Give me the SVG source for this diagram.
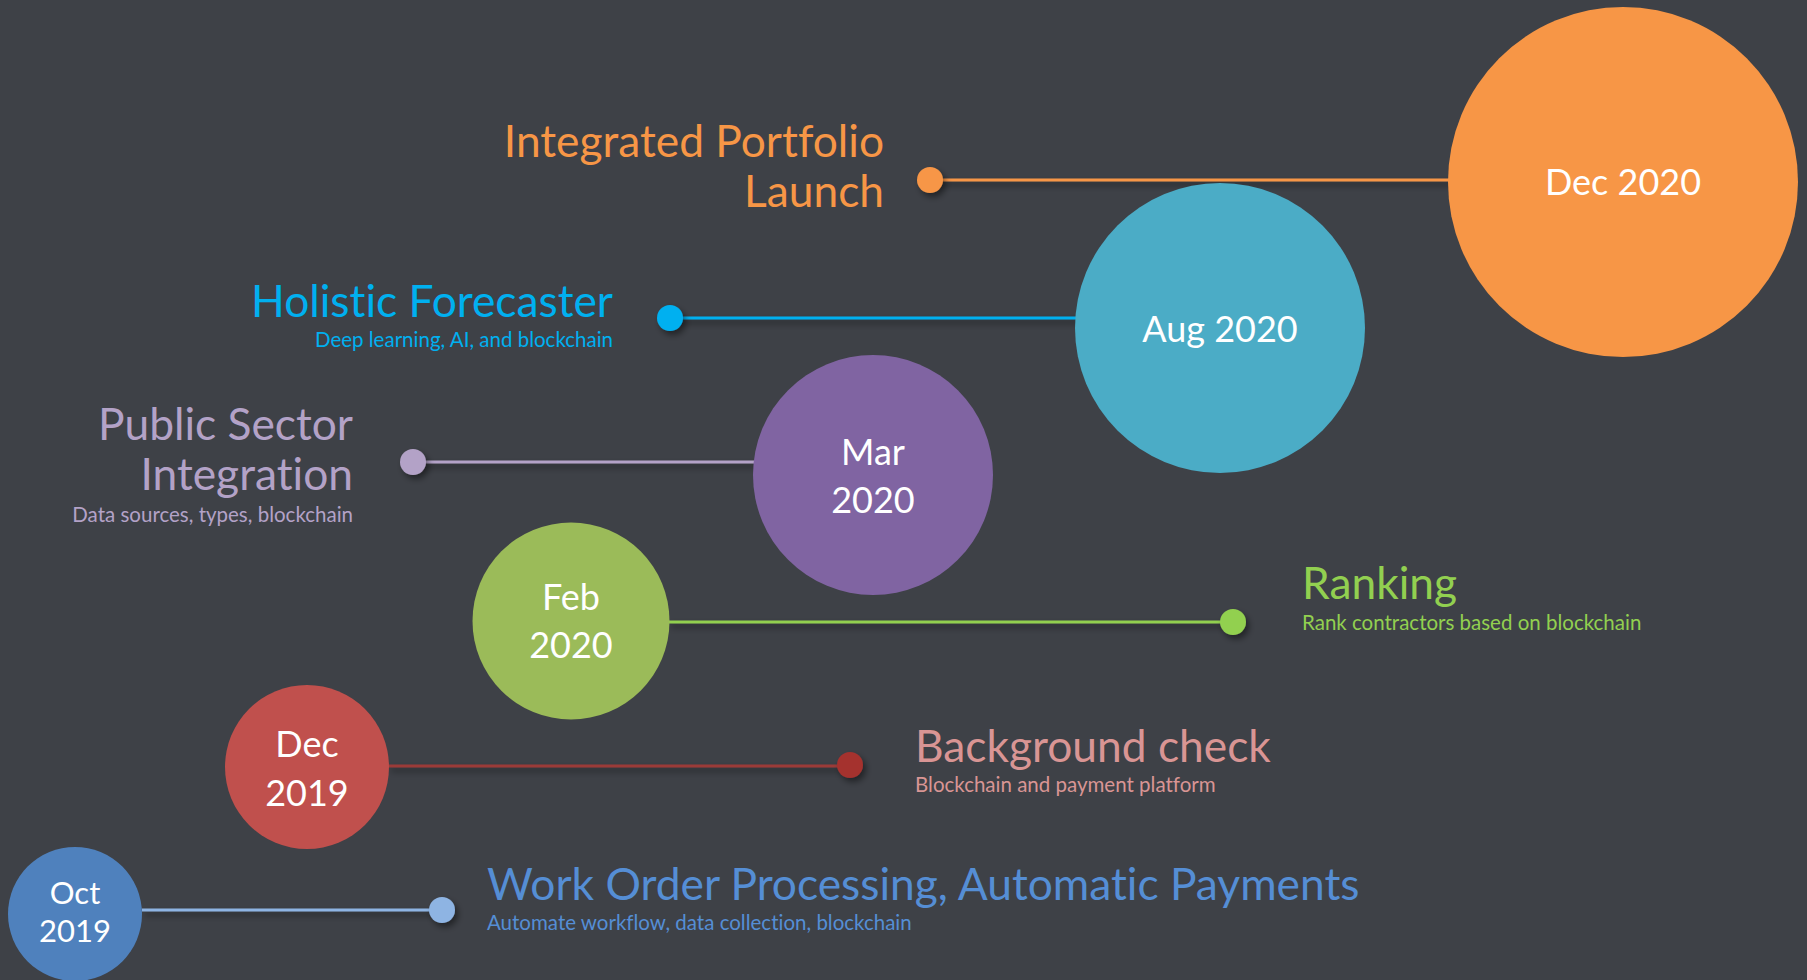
<svg xmlns="http://www.w3.org/2000/svg" width="1807" height="980" viewBox="0 0 1807 980">
<defs>
<filter id="sh" x="-50%" y="-50%" width="200%" height="200%">
<feDropShadow dx="3" dy="4" stdDeviation="3" flood-color="#000" flood-opacity="0.45"/>
</filter>
<style>
text{font-family:Lato,"Open Sans","DejaVu Sans",sans-serif;font-variant-ligatures:none}
.date{fill:#fff;text-anchor:middle;font-size:36px}
.t{font-size:44.3px}
.s{font-size:20.5px}
.r{text-anchor:end}
.ln{stroke-width:3;fill:none}
</style>
</defs>
<rect width="1807" height="980" fill="#3e4147"/>
<g id="connectors" filter="url(#sh)">
<line class="ln" x1="930" y1="180" x2="1450" y2="180" stroke="#f79646"/>
<line class="ln" x1="670" y1="318" x2="1077" y2="318" stroke="#00b0f0"/>
<line class="ln" x1="413" y1="462" x2="755" y2="462" stroke="#b3a2c7"/>
<line class="ln" x1="668" y1="622" x2="1233" y2="622" stroke="#92d050"/>
<line class="ln" x1="388" y1="766" x2="850" y2="766" stroke="#9b3b38"/>
<line class="ln" x1="142" y1="910" x2="442" y2="910" stroke="#8eb4e3"/>
</g>
<g id="n-dec2020">
<circle cx="1623" cy="182" r="175" fill="#f79646"/>
<text class="date" x="1623" y="195">Dec 2020</text>
<circle cx="930" cy="180" r="13" fill="#f79646" filter="url(#sh)"/>
<text class="t r" x="884" y="157" fill="#f79646">Integrated Portfolio</text>
<text class="t r" x="884" y="207" fill="#f79646">Launch</text>
</g>
<g id="n-aug2020">
<circle cx="1220" cy="328" r="145" fill="#4bacc6"/>
<text class="date" x="1220" y="342">Aug 2020</text>
<circle cx="670" cy="318" r="13" fill="#00b0f0" filter="url(#sh)"/>
<text class="t r" x="613" y="317" fill="#00b0f0">Holistic Forecaster</text>
<text class="s r" x="613" y="347" fill="#00b0f0">Deep learning, AI, and blockchain</text>
</g>
<g id="n-mar2020">
<circle cx="873" cy="475" r="120" fill="#8064a2"/>
<text class="date" x="873" y="465">Mar</text>
<text class="date" x="873" y="513">2020</text>
<circle cx="413" cy="462" r="13" fill="#b3a2c7" filter="url(#sh)"/>
<text class="t r" x="353" y="440" fill="#b3a2c7">Public Sector</text>
<text class="t r" x="353" y="490" fill="#b3a2c7">Integration</text>
<text class="s r" x="353" y="522" fill="#b3a2c7">Data sources, types, blockchain</text>
</g>
<g id="n-feb2020">
<circle cx="571" cy="621" r="98.5" fill="#9bbb59"/>
<text class="date" x="571" y="610">Feb</text>
<text class="date" x="571" y="658">2020</text>
<circle cx="1233" cy="622" r="13" fill="#92d050" filter="url(#sh)"/>
<text class="t" x="1302" y="599" fill="#92d050">Ranking</text>
<text class="s" x="1302" y="630" fill="#92d050">Rank contractors based on blockchain</text>
</g>
<g id="n-dec2019">
<circle cx="307" cy="767" r="82" fill="#c0504d"/>
<text class="date" x="307" y="757">Dec</text>
<text class="date" x="307" y="806">2019</text>
<circle cx="850" cy="765" r="13" fill="#a5312e" filter="url(#sh)"/>
<text class="t" x="915" y="762" fill="#d99594">Background check</text>
<text class="s" x="915" y="792" fill="#d99594">Blockchain and payment platform</text>
</g>
<g id="n-oct2019">
<circle cx="75" cy="914" r="67" fill="#4f81bd"/>
<text class="date" x="75" y="904" style="font-size:31px">Oct</text>
<text class="date" x="75" y="942" style="font-size:31px">2019</text>
<circle cx="442" cy="910" r="13" fill="#8eb4e3" filter="url(#sh)"/>
<text class="t" x="487" y="900" fill="#558ed5">Work Order Processing, Automatic Payments</text>
<text class="s" x="487" y="930" fill="#558ed5">Automate workflow, data collection, blockchain</text>
</g>
</svg>
